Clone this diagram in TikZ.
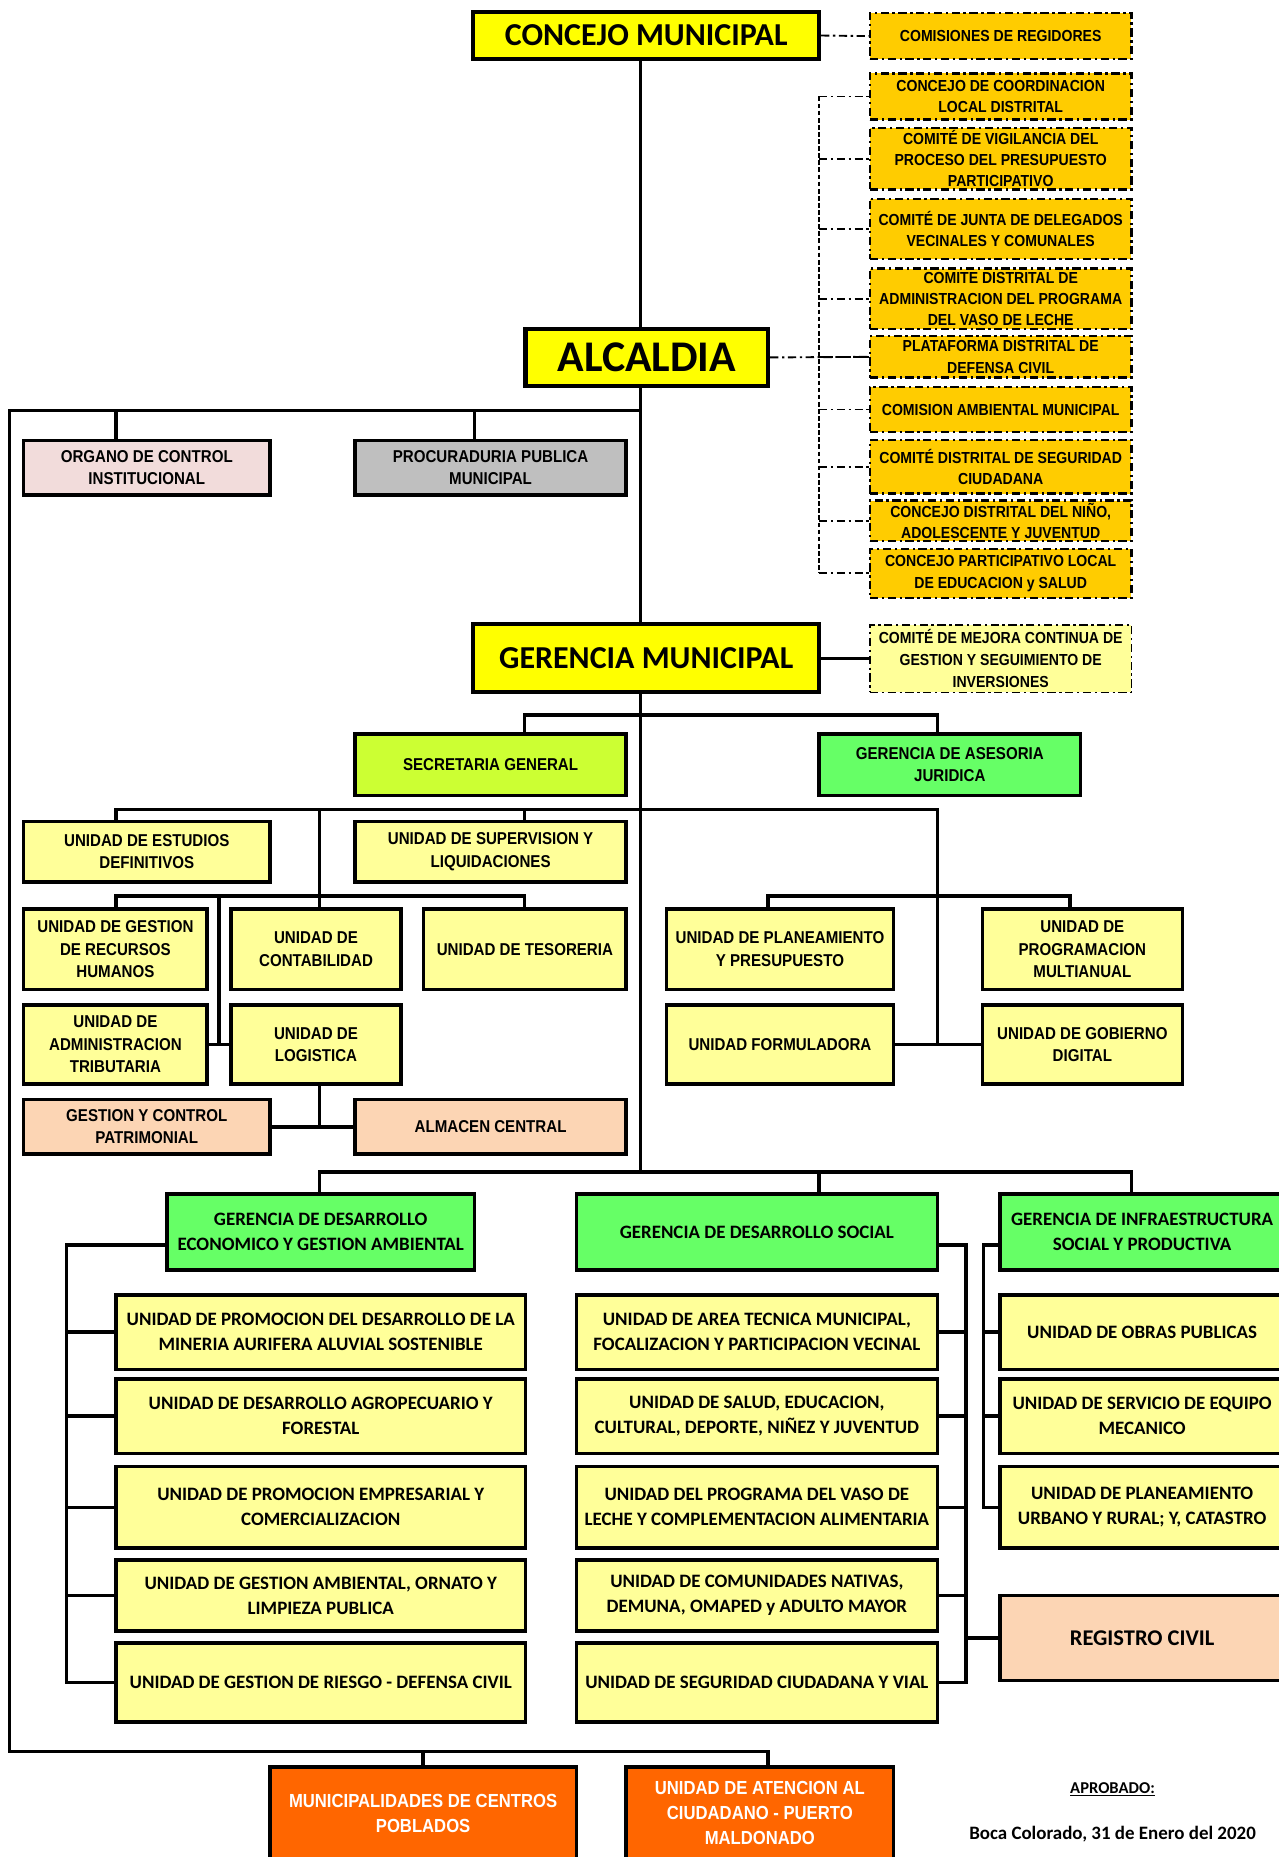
\documentclass[tikz,border=0pt]{standalone}
\usepackage{fontspec}
\setmainfont{Carlito}
\newfontfamily\arialn{Liberation Sans}[FakeStretch=0.88]
\usepackage{tikz}
\definecolor{amarillo}{HTML}{FFFF00}
\definecolor{ambar}{HTML}{FFCC00}
\definecolor{crema}{HTML}{FFFF99}
\definecolor{rosado}{HTML}{F2DCDB}
\definecolor{plomo}{HTML}{BFBFBF}
\definecolor{lima}{HTML}{CCFF33}
\definecolor{verde}{HTML}{66FF66}
\definecolor{durazno}{HTML}{FCD5B4}
\definecolor{naranja}{HTML}{FF6600}

\begin{document}
\begin{tikzpicture}[x=1pt, y=-1pt,
	caja/.style={draw, line width=3pt, align=center, inner sep=0pt},
	dim/.style 2 args={minimum width=#1pt, minimum height=#2pt},
	fa/.style={font=\arialn\bfseries\fontsize{14.5}{19}\selectfont},
	fc/.style={font=\bfseries\fontsize{16}{21}\selectfont},
	mayor/.style={caja, fill=amarillo, line width=3.5pt},
	unidad/.style={caja, fill=crema, fa},
	unidadb/.style={caja, fill=crema, fc},
	gerencia/.style={caja, fill=verde, fc},
	comision/.style={caja, fill=ambar, line width=2pt, dash pattern=on 7pt off 3pt on 2pt off 3pt, dim={221}{#1}, font=\arialn\bfseries\fontsize{13.5}{18}\selectfont},
	linea/.style={line width=3pt},
	punteada/.style={line width=1.6pt, dash pattern=on 7pt off 3pt on 2pt off 3pt},
	trazos/.style={line width=1pt, dash pattern=on 4pt off 2pt}]
	\useasboundingbox (0,0) rectangle (1080,1569);

	% organos de direccion
	\node[mayor, dim={292}{40}, font=\bfseries\fontsize{27}{30}\selectfont] (cm) at (546,30) {CONCEJO MUNICIPAL};
	\node[mayor, dim={205}{48}, font=\bfseries\fontsize{37}{40}\selectfont] (alc) at (546.5,302) {ALCALDIA};
	\node[mayor, dim={292}{58}, font=\bfseries\fontsize{27}{30}\selectfont] (gm) at (546,556) {GERENCIA MUNICIPAL};

	% comisiones y comites
	\node[comision=39] (l1) at (845.5,30.5) {COMISIONES DE REGIDORES};
	\node[comision=39] (l2) at (845.5,81.5) {CONCEJO DE COORDINACION\\LOCAL DISTRITAL};
	\node[comision=52] (l3) at (845.5,134) {COMITÉ DE VIGILANCIA DEL\\PROCESO DEL PRESUPUESTO\\PARTICIPATIVO};
	\node[comision=51] (l4) at (845.5,193.5) {COMITÉ DE JUNTA DE DELEGADOS\\VECINALES Y COMUNALES};
	\node[comision=51] (l5) at (845.5,252.5) {COMITE DISTRITAL DE\\ADMINISTRACION DEL PROGRAMA\\DEL VASO DE LECHE};
	\node[comision=35] (l6) at (845.5,301.5) {PLATAFORMA DISTRITAL DE\\DEFENSA CIVIL};
	\node[comision=38] (l7) at (845.5,346) {COMISION AMBIENTAL MUNICIPAL};
	\node[comision=45] (l8) at (845.5,394.5) {COMITÉ DISTRITAL DE SEGURIDAD\\CIUDADANA};
	\node[comision=34] (l9) at (845.5,440) {CONCEJO DISTRITAL DEL NIÑO,\\ADOLESCENTE Y JUVENTUD};
	\node[comision=41] (l10) at (845.5,484.5) {CONCEJO PARTICIPATIVO LOCAL\\DE EDUCACION y SALUD};
	\node[caja, fill=crema, line width=1.5pt, dash pattern=on 7pt off 3pt on 2pt off 3pt, dim={221}{57}, font=\arialn\bfseries\fontsize{13.5}{18.5}\selectfont] (mej) at (845.5,556.5) {COMITÉ DE MEJORA CONTINUA DE\\GESTION Y SEGUIMIENTO DE\\INVERSIONES};

	% control, asesoria y apoyo
	\node[caja, fill=rosado, fa, dim={208}{46}] (oci) at (124,395) {ORGANO DE CONTROL\\INSTITUCIONAL};
	\node[caja, fill=plomo, fa, dim={229}{46}] (ppm) at (414.5,395) {PROCURADURIA PUBLICA\\MUNICIPAL};
	\node[caja, fill=lima, fa, dim={229}{52}] (sg) at (414.5,646) {SECRETARIA GENERAL};
	\node[caja, fill=verde, fa, dim={221}{52}] (gaj) at (802.5,646) {GERENCIA DE ASESORIA\\JURIDICA};
	\node[unidad, dim={208}{51}] (ued) at (124,719.5) {UNIDAD DE ESTUDIOS\\DEFINITIVOS};
	\node[unidad, dim={229}{51}] (usl) at (414.5,719.5) {UNIDAD DE SUPERVISION Y\\LIQUIDACIONES};
	\node[unidad, dim={155}{68}] (urh) at (97.5,802) {UNIDAD DE GESTION\\DE RECURSOS\\HUMANOS};
	\node[unidad, dim={144}{68}] (uco) at (267,802) {UNIDAD DE\\CONTABILIDAD};
	\node[unidad, dim={171}{68}] (ute) at (443.5,802) {UNIDAD DE TESORERIA};
	\node[unidad, dim={155}{67}] (uat) at (97.5,882.5) {UNIDAD DE\\ADMINISTRACION\\TRIBUTARIA};
	\node[unidad, dim={144}{67}] (ulo) at (267,882.5) {UNIDAD DE\\LOGISTICA};
	\node[caja, fill=durazno, fa, dim={208}{46}] (gcp) at (124,952) {GESTION Y CONTROL\\PATRIMONIAL};
	\node[caja, fill=durazno, fa, dim={229}{46}] (ama) at (414.5,952) {ALMACEN CENTRAL};
	\node[unidad, dim={192}{68}] (upp) at (659,802) {UNIDAD DE PLANEAMIENTO\\Y PRESUPUESTO};
	\node[unidad, dim={169}{68}] (upm) at (914.5,802) {UNIDAD DE\\PROGRAMACION\\MULTIANUAL};
	\node[unidad, dim={192}{67}] (ufo) at (659,882.5) {UNIDAD FORMULADORA};
	\node[unidad, dim={169}{67}] (ugd) at (914.5,882.5) {UNIDAD DE GOBIERNO\\DIGITAL};

	% organos de linea
	\node[gerencia, dim={260}{64}] (gde) at (271,1041) {GERENCIA DE DESARROLLO\\ECONOMICO Y GESTION AMBIENTAL};
	\node[gerencia, dim={305}{64}] (gds) at (639.5,1041) {GERENCIA DE DESARROLLO SOCIAL};
	\node[gerencia, dim={240}{64}] (gis) at (965,1041) {GERENCIA DE INFRAESTRUCTURA\\SOCIAL Y PRODUCTIVA};

	\node[unidadb, dim={346}{63}] (u11) at (271,1125.5) {UNIDAD DE PROMOCION DEL DESARROLLO DE LA\\MINERIA AURIFERA ALUVIAL SOSTENIBLE};
	\node[unidadb, dim={346}{63}] (u12) at (271,1196.5) {UNIDAD DE DESARROLLO AGROPECUARIO Y\\FORESTAL};
	\node[unidadb, dim={346}{69}] (u13) at (271,1273.5) {UNIDAD DE PROMOCION EMPRESARIAL Y\\COMERCIALIZACION};
	\node[unidadb, dim={346}{60}] (u14) at (271,1348) {UNIDAD DE GESTION AMBIENTAL, ORNATO Y\\LIMPIEZA PUBLICA};
	\node[unidadb, dim={346}{67}] (u15) at (271,1421.5) {UNIDAD DE GESTION DE RIESGO - DEFENSA CIVIL};

	\node[unidadb, dim={305}{63}] (u21) at (639.5,1125.5) {UNIDAD DE AREA TECNICA MUNICIPAL,\\FOCALIZACION Y PARTICIPACION VECINAL};
	\node[unidadb, dim={305}{63}] (u22) at (639.5,1196.5) {UNIDAD DE SALUD, EDUCACION,\\CULTURAL, DEPORTE, NIÑEZ Y JUVENTUD};
	\node[unidadb, dim={305}{69}] (u23) at (639.5,1273.5) {UNIDAD DEL PROGRAMA DEL VASO DE\\LECHE Y COMPLEMENTACION ALIMENTARIA};
	\node[unidadb, dim={305}{60}] (u24) at (639.5,1348) {UNIDAD DE COMUNIDADES NATIVAS,\\DEMUNA, OMAPED y ADULTO MAYOR};
	\node[unidadb, dim={305}{67}] (u25) at (639.5,1421.5) {UNIDAD DE SEGURIDAD CIUDADANA Y VIAL};

	\node[unidadb, dim={240}{63}] (u31) at (965,1125.5) {UNIDAD DE OBRAS PUBLICAS};
	\node[unidadb, dim={240}{63}] (u32) at (965,1196.5) {UNIDAD DE SERVICIO DE EQUIPO\\MECANICO};
	\node[unidadb, dim={240}{69}] (u33) at (965,1273.5) {UNIDAD DE PLANEAMIENTO\\URBANO Y RURAL; Y, CATASTRO};
	\node[caja, fill=durazno, dim={240}{72}, font=\bfseries\fontsize{19}{22}\selectfont] (rc) at (965,1384) {REGISTRO CIVIL};

	% desconcentrados
	\node[caja, fill=naranja, text=white, dim={259}{78}, font=\arialn\bfseries\fontsize{16}{21}\selectfont] (mcp) at (357.5,1532) {MUNICIPALIDADES DE CENTROS\\POBLADOS};
	\node[caja, fill=naranja, text=white, dim={226}{78}, font=\arialn\bfseries\fontsize{16}{21}\selectfont] (uac) at (642,1532) {UNIDAD DE ATENCION AL\\CIUDADANO - PUERTO\\MALDONADO};

	\node[font=\bfseries\fontsize{14}{16}\selectfont] (apr) at (940,1512) {\underline{APROBADO:}};
	\node[font=\bfseries\fontsize{16}{18}\selectfont] (fecha) at (940,1550) {Boca Colorado, 31 de Enero del 2020};

	% ejes y barras
	\coordinate (eje) at (541,0);
	\coordinate (apoyo) at (541,347);
	\coordinate (marco) at (8,347);
	\coordinate (pie) at (649,1480);
	\coordinate (g1) at (541,604);
	\coordinate (g2) at (541,684);
	\coordinate (g3) at (541,990);
	\coordinate (r1) at (0,757);
	\coordinate (k0) at (185,0);
	\coordinate (k1) at (98,0);
	\coordinate (k2) at (270,0);
	\coordinate (k3) at (443,0);
	\coordinate (k4) at (649,0);
	\coordinate (k5) at (792,0);
	\coordinate (k6) at (904,0);
	\coordinate (k7) at (956,0);
	\coordinate (k8) at (692,0);
	\coordinate (kp) at (401,0);
	\coordinate (bl) at (692,0);
	\coordinate (bi) at (56,0);
	\coordinate (bd) at (816,0);
	\coordinate (bt) at (831,0);

	\draw[linea] (cm.south -| eje) -- (alc.north -| eje);
	\draw[linea] (alc.south -| eje) -- (gm.north -| eje);
	\draw[linea] (gm.south -| eje) -- (g3);
	\draw[linea] (apoyo) -- (marco) |- (pie) -- (pie |- uac.north);
	\draw[linea] (mcp.north) -- (mcp.north |- pie);
	\draw[linea] (k1 |- apoyo) -- (k1 |- oci.north);
	\draw[linea] (kp |- apoyo) -- (kp |- ppm.north);

	\draw[punteada] (cm.east) -- (l1.west);
	\draw[punteada] (alc.east) -- (l6.west);
	\draw[trazos] (bl |- l2.west) -- (bl |- l10.west);
	\foreach \i in {2,...,10}
		\draw[punteada] (bl |- l\i.west) -- (l\i.west);
	\draw[linea] (gm.east |- mej.west) -- (mej.west);

	\draw[linea] (k3 |- sg.north) -- (k3 |- g1) -- (k5 |- g1) -- (k5 |- gaj.north);
	\draw[linea] (k1 |- ued.north) -- (k1 |- g2) -- (k5 |- g2) -- (k5 |- ugd.west);
	\draw[linea] (k3 |- g2) -- (k3 |- usl.north);
	\draw[linea] (k2 |- g2) -- (k2 |- uco.north);
	\draw[linea] (k1 |- urh.north) -- (k1 |- r1) -- (k3 |- r1) -- (k3 |- ute.north);
	\draw[linea] (k0 |- r1) -- (k0 |- ulo.west);
	\draw[linea] (uat.east) -- (ulo.west);
	\draw[linea] (k2 |- ulo.south) -- (k2 |- gcp.east);
	\draw[linea] (gcp.east) -- (ama.west);
	\draw[linea] (k4 |- upp.north) -- (k4 |- r1) -- (k6 |- r1) -- (k6 |- upm.north);
	\draw[linea] (ufo.east) -- (ugd.west);

	\draw[linea] (k2 |- gde.north) -- (k2 |- g3) -- (k7 |- g3) -- (k7 |- gis.north);
	\draw[linea] (k8 |- g3) -- (k8 |- gds.north);
	\draw[linea] ([yshift=-11pt]gde.west) -| (bi |- u15.west) -- (u15.west);
	\foreach \i in {1,...,4}
		\draw[linea] (bi |- u1\i.west) -- (u1\i.west);
	\draw[linea] ([yshift=-11pt]gds.east) -| (bd |- u25.east) -- (u25.east);
	\foreach \i in {1,...,4}
		\draw[linea] (bd |- u2\i.east) -- (u2\i.east);
	\draw[linea] (bd |- rc.west) -- (rc.west);
	\draw[linea] ([yshift=-11pt]gis.west) -| (bt |- u33.west) -- (u33.west);
	\foreach \i in {1,2}
		\draw[linea] (bt |- u3\i.west) -- (u3\i.west);
\end{tikzpicture}
\end{document}
